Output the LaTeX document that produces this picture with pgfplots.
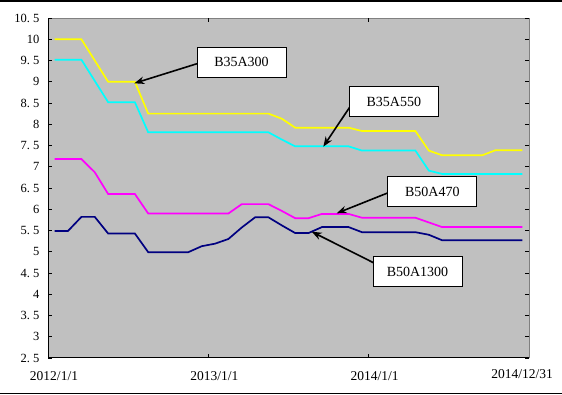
\documentclass[border=0pt]{standalone}
\usepackage{fontspec}
\setmainfont{Liberation Serif}
\usepackage{pgfplots}
\pgfplotsset{compat=1.18}
\usetikzlibrary{arrows.meta}
\definecolor{bggray}{RGB}{192,192,192}
\definecolor{frgray}{RGB}{128,128,128}
\definecolor{cyel}{RGB}{255,255,0}
\definecolor{ccya}{RGB}{0,255,255}
\definecolor{cmag}{RGB}{255,0,255}
\definecolor{cnav}{RGB}{0,0,128}
\begin{document}
\begin{tikzpicture}
\path[use as bounding box] (0pt,0pt) rectangle (562pt,395pt);
\draw[line width=1.2pt] (0pt,394pt) -- (562pt,394pt);
\draw[line width=1.2pt] (0pt,1.6pt) -- (562pt,1.6pt);
\begin{axis}[
  at={(48pt,37pt)}, anchor=south west,
  scale only axis, width=481pt, height=340pt,
  xmin=0, xmax=36, ymin=2.5, ymax=10.5,
  axis line style={draw=none},
  axis background/.style={fill=bggray, draw=frgray, line width=1pt},
  tick align=inside, major tick length=4pt,
  tick style={black, line width=0.8pt},
  xtick={0,12,24},
  xticklabels={2012/1/1,2013/1/1,2014/1/1},
  xticklabel style={font=\fontsize{13.5}{15}\selectfont, xshift=6pt, yshift=-10pt},
  ytick={2.5,3,3.5,4,4.5,5,5.5,6,6.5,7,7.5,8,8.5,9,9.5,10,10.5},
  yticklabels={2.\ 5,3,3.\ 5,4,4.\ 5,5,5.\ 5,6,6.\ 5,7,7.\ 5,8,8.\ 5,9,9.\ 5,10,10.\ 5},
  yticklabel style={font=\fontsize{12.5}{14}\selectfont, xshift=-5pt},
  /pgf/number format/assume math mode=true,
  clip=false,
]
\addplot[cyel, line width=1.7pt] coordinates {
(0.5,10)(2.5,10)(4.5,9)(6.5,9)(7.5,8.25)(16.5,8.25)(17.5,8.13)(18.5,7.92)(22.5,7.92)(23.5,7.84)(27.5,7.84)(28.5,7.38)(29.5,7.27)(32.5,7.27)(33.5,7.39)(35.5,7.39)};
\addplot[ccya, line width=1.7pt] coordinates {
(0.5,9.52)(2.5,9.52)(4.5,8.52)(6.5,8.52)(7.5,7.81)(16.5,7.81)(17.5,7.64)(18.5,7.48)(22.5,7.48)(23.5,7.38)(27.5,7.38)(28.5,6.91)(29.5,6.83)(35.5,6.83)};
\addplot[cmag, line width=1.7pt] coordinates {
(0.5,7.18)(2.5,7.18)(3.5,6.87)(4.5,6.36)(6.5,6.36)(7.5,5.90)(13.5,5.90)(14.5,6.12)(16.5,6.12)(17.5,5.96)(18.5,5.79)(19.5,5.79)(20.5,5.89)(22.5,5.89)(23.5,5.80)(27.5,5.80)(28.5,5.69)(29.5,5.58)(35.5,5.58)};
\addplot[cnav, line width=1.7pt] coordinates {
(0.5,5.49)(1.5,5.49)(2.5,5.82)(3.5,5.82)(4.5,5.43)(6.5,5.43)(7.5,4.99)(10.5,4.99)(11.5,5.13)(12.5,5.19)(13.5,5.30)(14.5,5.57)(15.5,5.81)(16.5,5.81)(17.5,5.62)(18.5,5.44)(19.5,5.44)(20.5,5.58)(22.5,5.58)(23.5,5.46)(27.5,5.46)(28.5,5.40)(29.5,5.27)(35.5,5.27)};
\draw[black, line width=1pt] (rel axis cs:0,1) -- (rel axis cs:0,0) -- (rel axis cs:1,0);
\end{axis}
\node[font=\fontsize{13.5}{15}\selectfont] at (522pt,21pt) {2014/12/31};
\begin{scope}[line width=1.6pt, -{Stealth[length=10pt,width=7.5pt]}]
\draw (198.3pt,331.7pt) -- (134.3pt,311.7pt);
\draw (350pt,288.3pt) -- (323.3pt,248.3pt);
\draw (388.3pt,202.3pt) -- (336.7pt,181.7pt);
\draw (374pt,132pt) -- (311.7pt,163.3pt);
\end{scope}
\begin{scope}[every node/.style={draw=black, fill=white, line width=0.8pt, minimum width=89pt, minimum height=30pt, inner sep=0pt, font=\fontsize{14}{16}\selectfont}]
\node at (241.5pt,333pt) {B35A300};
\node at (393.8pt,293.3pt) {B35A550};
\node at (432.3pt,203.3pt) {B50A470};
\node at (417.5pt,123.5pt) {B50A1300};
\end{scope}
\end{tikzpicture}
\end{document}
